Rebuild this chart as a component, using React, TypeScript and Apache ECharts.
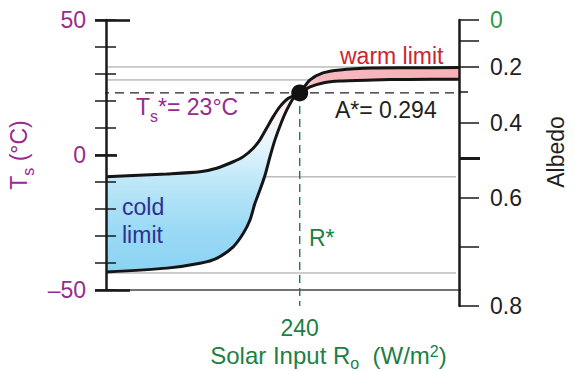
import React, { useEffect, useRef } from "react";
import * as echarts from "echarts";

const FONT = '"Liberation Sans", Arial, Helvetica, sans-serif';
const PURPLE = "#972b8f";
const GREEN = "#1d7f45";
const GREEN_LIGHT = "#2a9b45";
const RED = "#d02330";
const NAVY = "#2e3192";
const INK = "#231f20";

// x axis: solar input (W/m2)
const X_MIN = 150;
const X_MAX = 314;
const R_STAR = 240;
const X_LABELS = [240];

// left axis: surface temperature (°C)
const T_MIN = -50;
const T_MAX = 50;
const T_STEP = 10;
const T_LABELS = [-50, 0, 50];
const T_STAR = 23;
const A_STAR = 0.294;

// gentle curve (cold-limit top, warm-limit bottom)
const shallowX = [150, 178.3, 193.7, 201.4, 209.1, 213.8, 218.4, 221.5, 224.6, 227.7, 230.8, 234.7, 240, 244.8, 250.8, 258.7, 274, 290, 314];
const shallowT = [-8.1, -7.0, -6.2, -4.9, -2.5, -0.6, 2.5, 5.6, 9.9, 14.2, 17.9, 21.0, 23, 25.2, 26.7, 27.4, 27.8, 28.0, 28.1];

// steep curve (cold-limit bottom, warm-limit top)
const steepX = [150, 178.3, 193.7, 201.4, 209.1, 213.8, 216.9, 219.2, 221.5, 223.9, 226.2, 228.5, 231.6, 234.0, 237.0, 240, 244.8, 250.8, 258.7, 274, 290, 314];
const steepT = [-43.3, -41.9, -40.1, -38.3, -34.0, -29.0, -24.1, -17.9, -13.0, -7.4, -0.6, 5.6, 12.3, 16.7, 21.0, 23, 27.8, 30.4, 31.5, 32.2, 32.3, 32.4];

// thin grey reference lines (°C)
const greyLinesT = [32.6, 27.8, -8.1, -43.7];

// right axis: albedo ticks, located on the temperature scale
const albedoTicks = [0, 0.1, 0.2, 0.3, 0.4, 0.5, 0.6, 0.7, 0.8];
const albedoTickT = [50, 42.2, 32.6, 23.3, 11.9, -1.1, -15.9, -34.1, -55.9];
const albedoLabels = [0, 0.2, 0.4, 0.6, 0.8];
const ALB_T_MIN = -55.9;

const pts = (xs: number[], ys: number[]) => xs.map((x, i) => [x, ys[i]]);

export default function App() {
  const ref = useRef<HTMLDivElement>(null);

  useEffect(() => {
    if (!ref.current) return;
    const chart = echarts.init(ref.current, null, { renderer: "svg" });

    const shallow = pts(shallowX, shallowT);
    const steep = pts(steepX, steepT);
    const coldPoly = [
      ...shallow.filter((p) => p[0] <= R_STAR),
      ...steep.filter((p) => p[0] <= R_STAR).reverse(),
    ];
    const warmPoly = [
      ...steep.filter((p) => p[0] >= R_STAR),
      ...shallow.filter((p) => p[0] >= R_STAR).reverse(),
    ];

    const coldFill = new echarts.graphic.LinearGradient(0, 0, 0, 1, [
      { offset: 0, color: "#fbdfe3" },
      { offset: 0.12, color: "#fdf4f5" },
      { offset: 0.3, color: "#e4f5fd" },
      { offset: 0.5, color: "#bde7f8" },
      { offset: 0.75, color: "#9cdaf5" },
      { offset: 1, color: "#8bd3f3" },
    ]);
    const warmFill = new echarts.graphic.LinearGradient(0, 0, 1, 0, [
      { offset: 0, color: "#fbe2e4" },
      { offset: 0.12, color: "#f7b8bd" },
      { offset: 1, color: "#f6b1b6" },
    ]);

    const lineSeg = (data: number[][], color: string, width: number, type: any, z: number) => ({
      type: "line",
      xAxisIndex: 0,
      yAxisIndex: 0,
      data,
      symbol: "none",
      showSymbol: false,
      clip: false,
      silent: true,
      lineStyle: { color, width, type },
      z,
    });

    const poly = (points: number[][], fill: any) => ({
      type: "custom",
      xAxisIndex: 0,
      yAxisIndex: 0,
      data: [[X_MIN, T_MIN]],
      clip: false,
      silent: true,
      z: 2,
      renderItem: (_p: any, api: any) => ({
        type: "polygon",
        shape: { points: points.map((p) => api.coord(p)) },
        style: { fill },
      }),
    });

    const curve = (data: number[][]) => ({
      type: "line",
      xAxisIndex: 0,
      yAxisIndex: 0,
      data,
      symbol: "none",
      smooth: 0.25,
      clip: false,
      silent: true,
      lineStyle: { color: "#151515", width: 3 },
      z: 3,
    });

    const xPerPx = (X_MAX - X_MIN) / 353;

    const series: any[] = [
      ...greyLinesT.map((t) =>
        lineSeg([[X_MIN + 2 * xPerPx, t], [X_MAX - 3 * xPerPx, t]], "#9a9a9a", 1, "solid", 1)
      ),
      lineSeg([[X_MIN, T_MIN], [X_MAX + 11 * xPerPx, T_MIN]], "#444", 1.3, "solid", 1),
      poly(coldPoly, coldFill),
      poly(warmPoly, warmFill),
      curve(shallow),
      curve(steep),
      lineSeg([[X_MIN - 6 * xPerPx, T_STAR], [X_MAX + 9 * xPerPx, T_STAR]], "#222", 1.4, [9, 6], 4),
      lineSeg([[R_STAR, T_STAR], [R_STAR, ALB_T_MIN]], GREEN, 1.4, [8, 5], 4),
      {
        type: "scatter",
        xAxisIndex: 0,
        yAxisIndex: 0,
        data: [[R_STAR, T_STAR]],
        symbolSize: 17,
        itemStyle: { color: "#111", opacity: 1 },
        silent: true,
        z: 6,
      },
    ];

    const tickStyle = (w: number) => ({ color: "#1a1a1a", width: w });
    const leftBase = {
      gridIndex: 0,
      type: "value",
      min: T_MIN,
      max: T_MAX,
      interval: T_STEP,
      position: "left",
      offset: 0,
      z: 10,
      splitLine: { show: false },
    };
    const rightBase = {
      gridIndex: 1,
      type: "value",
      min: ALB_T_MIN,
      max: T_MAX,
      position: "right",
      offset: 0,
      z: 10,
      splitLine: { show: false },
    };
    const tAt = (a: number) => albedoTickT[albedoTicks.findIndex((v) => Math.abs(v - a) < 1e-6)];

    const option: any = {
      animation: false,
      backgroundColor: "#fff",
      textStyle: { fontFamily: FONT },
      grid: [
        { left: 106, right: 116, top: 20, bottom: 81, containLabel: false, outerBoundsMode: "none" },
        { left: 106, right: 116, top: 20, bottom: 65, containLabel: false, outerBoundsMode: "none" },
      ],
      xAxis: [
        {
          gridIndex: 0,
          type: "value",
          min: X_MIN,
          max: X_MAX,
          axisLine: { show: false },
          axisTick: { show: false },
          splitLine: { show: false },
          axisLabel: {
            customValues: X_LABELS,
            color: GREEN,
            fontSize: 23,
            fontFamily: FONT,
            margin: 26,
          },
          name: "{a|Solar Input R}{s|o}{a|  (W/m}{p|2}{a|)}",
          nameLocation: "middle",
          nameGap: 54,
          nameTextStyle: {
            padding: [0, 0, 0, 92],
            rich: {
              a: { fontSize: 24, fontFamily: FONT, color: GREEN, lineHeight: 23, padding: [0, 0, 4, 0], verticalAlign: "bottom" },
              s: { fontSize: 16, fontFamily: FONT, color: GREEN, lineHeight: 16, verticalAlign: "bottom" },
              p: { fontSize: 16, fontFamily: FONT, color: GREEN, lineHeight: 15, padding: [0, 0, 12, 0], verticalAlign: "bottom" },
            },
          },
        },
        { gridIndex: 1, type: "value", min: X_MIN, max: X_MAX, show: false },
      ],
      yAxis: [
        {
          ...leftBase,
          axisLine: { show: true, lineStyle: { color: "#1a1a1a", width: 2.5 } },
          axisTick: { show: true, length: 11, lineStyle: tickStyle(1.5) },
          axisLabel: {
            customValues: T_LABELS,
            formatter: (v: number) => (v < 0 ? "\u2013" + Math.abs(v) : String(v)),
            color: PURPLE,
            fontSize: 23,
            fontFamily: FONT,
            margin: 20,
          },
          name: "{a|T}{s|s}{a| (°C)}",
          nameLocation: "middle",
          nameGap: 54,
          nameTextStyle: {
            rich: {
              a: { fontSize: 23, fontFamily: FONT, color: PURPLE, lineHeight: 26, padding: [0, 0, 6, 0], verticalAlign: "bottom" },
              s: { fontSize: 16, fontFamily: FONT, color: PURPLE, lineHeight: 18, verticalAlign: "bottom" },
            },
          },
        },
        {
          ...leftBase,
          axisLine: { show: false },
          axisTick: { show: true, inside: true, length: 10, lineStyle: tickStyle(1.5) },
          axisLabel: { show: false },
        },
        {
          ...leftBase,
          axisLine: { show: false },
          axisTick: { show: true, customValues: T_LABELS, length: 11, lineStyle: tickStyle(2.6) },
          axisLabel: { show: false },
        },
        {
          ...leftBase,
          axisLine: { show: false },
          axisTick: { show: true, customValues: [T_MIN, T_MAX], inside: true, length: 24, lineStyle: tickStyle(2.6) },
          axisLabel: { show: false },
        },
        {
          ...leftBase,
          axisLine: { show: false },
          axisTick: { show: true, customValues: [0], inside: true, length: 11, lineStyle: tickStyle(2.6) },
          axisLabel: { show: false },
        },
        {
          ...rightBase,
          axisLine: { show: true, lineStyle: { color: "#1a1a1a", width: 2.5 } },
          axisTick: {
            show: true,
            customValues: [0, 0.1, 0.2, 0.4, 0.6, 0.7, 0.8].map(tAt),
            length: 20,
            lineStyle: tickStyle(1.5),
          },
          axisLabel: {
            customValues: albedoLabels.map(tAt),
            formatter: (v: number) => {
              const i = albedoTickT.findIndex((t) => Math.abs(t - v) < 0.01);
              const a = albedoTicks[i];
              return a === 0 ? "{g|0}" : a.toFixed(1);
            },
            color: INK,
            fontSize: 23,
            fontFamily: FONT,
            margin: 31,
            rich: { g: { color: GREEN_LIGHT, fontSize: 23, fontFamily: FONT } },
          },
        },
        {
          ...rightBase,
          axisLine: { show: false },
          axisTick: { show: true, customValues: [tAt(0.3)], length: 9, lineStyle: tickStyle(1.5) },
          axisLabel: { show: false },
        },
        {
          ...rightBase,
          axisLine: { show: false },
          axisTick: { show: true, customValues: [tAt(0.5)], length: 21, lineStyle: tickStyle(3) },
          axisLabel: { show: false },
        },
      ],
      series,
      graphic: [
        {
          type: "text",
          x: 136,
          y: 98,
          z: 20,
          style: {
            text: `{a|T}{s|s}{a|*= ${T_STAR}°C}`,
            rich: {
              a: { fontSize: 23, fontFamily: FONT, fill: PURPLE, lineHeight: 26, padding: [0, 0, 6, 0], verticalAlign: "bottom" },
              s: { fontSize: 16, fontFamily: FONT, fill: PURPLE, lineHeight: 18, verticalAlign: "bottom" },
            },
          },
        },
        {
          type: "text",
          x: 335,
          y: 98,
          z: 20,
          style: { text: `A*= ${A_STAR}`, fontSize: 23, fontFamily: FONT, fill: INK },
        },
        {
          type: "text",
          x: 340,
          y: 44,
          z: 20,
          style: { text: "warm limit", fontSize: 23, fontFamily: FONT, fill: RED },
        },
        {
          type: "text",
          x: 122,
          y: 193,
          z: 20,
          style: { text: "cold\nlimit", fontSize: 23, lineHeight: 28, fontFamily: FONT, fill: NAVY },
        },
        {
          type: "text",
          x: 309,
          y: 226,
          z: 20,
          style: { text: "R*", fontSize: 23, fontFamily: FONT, fill: GREEN },
        },
        {
          type: "text",
          x: 556,
          y: 152,
          rotation: Math.PI / 2,
          z: 20,
          style: { text: "Albedo", fontSize: 23, fontFamily: FONT, fill: INK, align: "center", verticalAlign: "middle" },
        },
      ],
    };

    chart.setOption(option);
    return () => chart.dispose();
  }, []);

  return (
    <div
      ref={ref}
      style={{ position: "absolute", left: 0, top: 0, width: 575, height: 371, background: "#fff" }}
    />
  );
}
